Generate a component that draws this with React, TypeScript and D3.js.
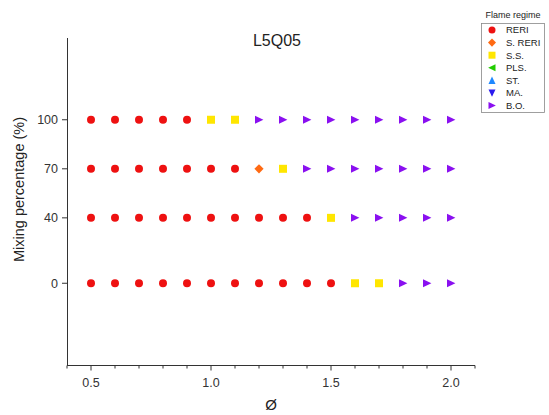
import React from "react";
import * as d3 from "d3";

// Flame regimes: name, colour, marker shape
const regimes = ["RERI", "S. RERI", "S.S.", "PLS.", "ST.", "MA.", "B.O."];
const regimeColors = ["#ee1111", "#ff6a13", "#ffe600", "#22cc00", "#1e88ff", "#2a1aee", "#8a10f0"];
const regimeShapes = ["circle", "diamond", "square", "tri-left", "tri-up", "tri-down", "tri-right"];

// Equivalence ratios tested
const phiValues = [0.5, 0.6, 0.7, 0.8, 0.9, 1.0, 1.1, 1.2, 1.3, 1.4, 1.5, 1.6, 1.7, 1.8, 1.9, 2.0];

// Mixing percentages and the observed regime index at each phi
const mixLevels = [100, 70, 40, 0];
const regime100 = [0, 0, 0, 0, 0, 2, 2, 6, 6, 6, 6, 6, 6, 6, 6, 6];
const regime70 = [0, 0, 0, 0, 0, 0, 0, 1, 2, 6, 6, 6, 6, 6, 6, 6];
const regime40 = [0, 0, 0, 0, 0, 0, 0, 0, 0, 0, 2, 6, 6, 6, 6, 6];
const regime0 = [0, 0, 0, 0, 0, 0, 0, 0, 0, 0, 0, 2, 2, 6, 6, 6];
const regimeRows = [regime100, regime70, regime40, regime0];

const xTicks = [0.5, 1.0, 1.5, 2.0];
const yTicks = [100, 70, 40, 0];

function markerPath(shape: string, s: number): string {
  const h = s / 2;
  switch (shape) {
    case "diamond":
      return `M0,${-h * 1.15}L${h * 1.15},0L0,${h * 1.15}L${-h * 1.15},0Z`;
    case "square":
      return `M${-h},${-h}H${h}V${h}H${-h}Z`;
    case "tri-left":
      return `M${-h * 1.1},0L${h},${-h}L${h},${h}Z`;
    case "tri-right":
      return `M${h * 1.1},0L${-h},${-h}L${-h},${h}Z`;
    case "tri-up":
      return `M0,${-h * 1.1}L${h},${h}L${-h},${h}Z`;
    case "tri-down":
      return `M0,${h * 1.1}L${h},${-h}L${-h},${-h}Z`;
    default:
      return d3.symbol(d3.symbolCircle, Math.PI * h * h)() || "";
  }
}

function Marker({ idx, x, y, size }: { idx: number; x: number; y: number; size: number }) {
  return (
    <path
      d={markerPath(regimeShapes[idx], size)}
      transform={`translate(${x},${y})`}
      fill={regimeColors[idx]}
    />
  );
}

export default function App() {
  const width = 549;
  const height = 415;
  const x = d3.scaleLinear().domain([0.4, 2.1]).range([67, 475]);
  const y = d3.scaleLinear().domain([-50, 150]).range([365, 38]);
  const font = "Arial, 'Liberation Sans', sans-serif";
  const minorTicks = d3.range(4, 22).map((v) => v / 10).filter((v) => !xTicks.some((t) => Math.abs(t - v) < 1e-6));

  const legendX = 481;
  const legendY = 23;
  const legendStep = 12.6;

  return (
    <svg
      width={width}
      height={height}
      style={{ position: "absolute", left: 0, top: 0, background: "#fff" }}
      fontFamily={font}
    >
      {/* title */}
      <text x={277} y={46} textAnchor="middle" fontSize={16} fill="#222">
        L5Q05
      </text>

      {/* y axis */}
      <line x1={67.5} x2={67.5} y1={y(150)} y2={y(-50)} stroke="#333" strokeWidth={1} />
      {yTicks.map((t) => (
        <g key={t}>
          <line x1={62} x2={67.5} y1={y(t)} y2={y(t)} stroke="#333" />
          <text x={58} y={y(t)} dy="0.35em" textAnchor="end" fontSize={12.5} fill="#333">
            {t}
          </text>
        </g>
      ))}
      <text
        transform={`translate(24,${(y(100) + y(0)) / 2 - 12}) rotate(-90)`}
        textAnchor="middle"
        fontSize={14.5}
        fill="#222"
      >
        Mixing percentage (%)
      </text>

      {/* x axis */}
      <line x1={67} x2={x(2.1)} y1={365.5} y2={365.5} stroke="#333" strokeWidth={1} />
      {minorTicks.map((t) => (
        <line key={t} x1={x(t)} x2={x(t)} y1={365.5} y2={368.5} stroke="#333" />
      ))}
      {xTicks.map((t) => (
        <g key={t}>
          <line x1={x(t)} x2={x(t)} y1={365.5} y2={370.5} stroke="#333" />
          <text x={x(t)} y={383} dy="0.35em" textAnchor="middle" fontSize={12.5} fill="#333">
            {d3.format(".1f")(t)}
          </text>
        </g>
      ))}
      <text x={271} y={410} textAnchor="middle" fontSize={15} fill="#222">
        Ø
      </text>

      {/* data markers */}
      {regimeRows.map((row, ri) =>
        row.map((r, pi) => (
          <Marker key={`${ri}-${pi}`} idx={r} x={x(phiValues[pi])} y={y(mixLevels[ri])} size={8} />
        ))
      )}

      {/* legend */}
      <text x={513} y={18} textAnchor="middle" fontSize={9} fill="#222">
        Flame regime
      </text>
      <rect x={legendX + 0.5} y={legendY + 0.5} width={63} height={89} fill="none" stroke="#888" strokeWidth={0.8} />
      {regimes.map((name, i) => (
        <g key={name}>
          <Marker idx={i} x={492} y={legendY + 7 + i * legendStep} size={7} />
          <text x={506} y={legendY + 7 + i * legendStep} dy="0.35em" fontSize={9.5} fill="#222">
            {name}
          </text>
        </g>
      ))}
    </svg>
  );
}
